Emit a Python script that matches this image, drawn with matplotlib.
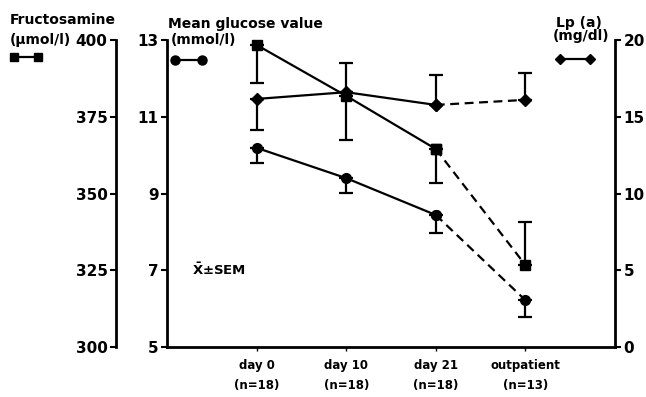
import matplotlib
matplotlib.use('Agg')
import matplotlib.pyplot as plt
from matplotlib.lines import Line2D
import numpy as np

plt.rcParams['font.family'] = ['DejaVu Sans']
plt.rcParams['font.weight'] = 'bold'

# data
visits = ['day 0\n(n=18)', 'day 10\n(n=18)', 'day 21\n(n=18)', 'outpatient\n(n=13)']
x = np.array([1, 2, 3, 4])

fructosamine = np.array([398.4, 381.8, 364.5, 326.7])
fructo_lo = np.array([12.4, 14.4, 11.1, 0.0])
fructo_hi = np.array([0.0, 0.0, 0.0, 14.0])

glucose = np.array([10.19, 9.40, 8.44, 6.22])
gluc_lo = np.array([0.39, 0.39, 0.47, 0.44])
gluc_hi = np.array([0.0, 0.0, 0.0, 0.0])

lpa = np.array([16.16, 16.6, 15.77, 16.1])
lpa_lo = np.array([2.0, 0.0, 0.0, 0.0])
lpa_hi = np.array([0.0, 1.9, 1.95, 1.76])

fructo_ticks = [300, 325, 350, 375, 400]
gluc_ticks = [5, 7, 9, 11, 13]
lpa_ticks = [0, 5, 10, 15, 20]

LW = 1.6
W, H = 646, 397


def draw_series(ax, y, lo, hi, marker, ms):
    # solid during the stay, dashed to the outpatient visit
    ax.plot(x[:3], y[:3], '-', color='black', lw=LW, marker=marker, ms=ms, clip_on=False)
    ax.plot(x[2:], y[2:], '--', color='black', lw=LW, marker=marker, ms=ms,
            dashes=(4, 2.5), clip_on=False)
    ax.errorbar(x, y, yerr=[lo, hi], fmt='none', ecolor='black', elinewidth=LW,
                capsize=5, capthick=LW, clip_on=False)


def style_axis(ax):
    ax.tick_params(axis='y', which='major', direction='out', length=4, width=1.5,
                   labelsize=11, pad=2)
    for lab in ax.get_yticklabels():
        lab.set_fontweight('bold')


def label(px, py, s, size=10):
    fig.text(px / W, 1 - py / H, s, fontsize=size, fontweight='bold', va='center')


fig = plt.figure(figsize=(6.46, 3.97), dpi=100)
ax = fig.add_axes([167 / W, 1 - 347 / H, (615 - 167) / W, (347 - 40) / H])

# glucose axis (inner left)
ax.set_xlim(0, 5)
ax.set_ylim(5, 13)
ax.set_yticks(gluc_ticks)
ax.spines['top'].set_visible(False)
ax.spines['right'].set_visible(False)
ax.spines['left'].set_linewidth(2)
ax.spines['bottom'].set_linewidth(2)
ax.set_xticks(x)
ax.set_xticklabels(visits, fontsize=8.5, fontweight='bold', linespacing=1.7)
ax.tick_params(axis='x', direction='out', length=3, width=1, pad=6)
style_axis(ax)

# fructosamine axis (outer left)
axf = ax.twinx()
axf.set_ylim(300, 400)
axf.set_yticks(fructo_ticks)
axf.spines['left'].set_position(('outward', 51 * 0.72))
axf.spines['left'].set_linewidth(2)
for s in ['right', 'top', 'bottom']:
    axf.spines[s].set_visible(False)
axf.yaxis.set_ticks_position('left')
style_axis(axf)

# Lp(a) axis (right)
axl = ax.twinx()
axl.set_ylim(0, 20)
axl.set_yticks(lpa_ticks)
for s in ['left', 'top', 'bottom']:
    axl.spines[s].set_visible(False)
axl.spines['right'].set_linewidth(2)
style_axis(axl)

draw_series(axf, fructosamine, fructo_lo, fructo_hi, 's', 6.5)
draw_series(ax, glucose, gluc_lo, gluc_hi, 'o', 7)
draw_series(axl, lpa, lpa_lo, lpa_hi, 'D', 6)

# axis titles and legend keys
label(10, 20, 'Fructosamine')
label(10, 40, '(µmol/l)')
label(168, 24, 'Mean glucose value')
label(171, 40, '(mmol/l)')
label(556, 23, 'Lp (a)')
label(553, 36, '(mg/dl)')

for (x0, x1, yk, mk, ms) in [(14, 38, 57, 's', 6), (175, 202, 60, 'o', 6.5), (560, 590, 59, 'D', 5.5)]:
    fig.add_artist(Line2D([x0 / W, x1 / W], [1 - yk / H, 1 - yk / H], color='black',
                          lw=LW, marker=mk, ms=ms, transform=fig.transFigure))

ax.text(0.28, 7, r'$\bar{\mathbf{X}}$±SEM', fontsize=9.5, fontweight='bold', va='center')

fig.savefig('out.png', dpi=100)
